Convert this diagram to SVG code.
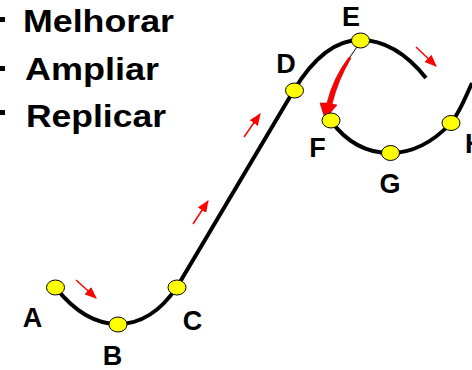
<svg xmlns="http://www.w3.org/2000/svg" width="472" height="370" viewBox="0 0 472 370">
<style>
.big{font-family:"Liberation Sans",Arial,sans-serif;font-weight:bold;font-size:31px;fill:#000}
.lbl{font-family:"Liberation Sans",Arial,sans-serif;font-weight:bold;font-size:27px;fill:#000;text-anchor:middle}
.curve{fill:none;stroke:#000;stroke-width:4;stroke-linecap:butt;stroke-linejoin:round}
.node ellipse{fill:#ffff00;stroke:#000;stroke-width:1}
.ra{stroke:#ff0000;stroke-width:1.5;fill:none;marker-end:url(#ah)}
</style>
<defs>
<marker id="ah" viewBox="0 0 12 10" refX="11" refY="5" markerWidth="12" markerHeight="10" markerUnits="userSpaceOnUse" orient="auto">
<path d="M0,0 L12,5 L0,10 z" fill="#ff0000"/>
</marker>
</defs>
<rect width="472" height="370" fill="#fff"/>
<g id="bullets">
<rect x="0" y="17" width="5" height="5" fill="#000"/>
<text class="big" x="23" y="31.5" textLength="151" lengthAdjust="spacingAndGlyphs">Melhorar</text>
<rect x="0" y="66" width="5" height="5" fill="#000"/>
<text class="big" x="25" y="80" textLength="134" lengthAdjust="spacingAndGlyphs">Ampliar</text>
<rect x="0" y="110" width="5" height="5" fill="#000"/>
<text class="big" x="26" y="127" textLength="140" lengthAdjust="spacingAndGlyphs">Replicar</text>
</g>
<g id="connectors">
<path class="curve" d="M56,288 C75,312 95,324 118,324 C140,324 160,312 177,287 L294,90 C308,67 330,40 360,40 C388,40 410,58 426,78"/>
<path class="curve" d="M331,121 C345,140 365,153 390,153 C415,153 435,140 451,123 C460,112 465,98 472,83"/>
<path class="ra" d="M76,280 L96,298"/>
<path class="ra" d="M193,224 L208,201"/>
<path class="ra" d="M244,137 L260,114"/>
<path class="ra" d="M416,47 L436,66"/>
<line x1="361" y1="41" x2="350" y2="57" stroke="#000" stroke-width="1"/>
<path d="M349,57 Q333,78 327,103 L320,103 L325,119 L337,105 L332,104 Q338,80 351,58 Z" fill="#ff0000" stroke="#b00000" stroke-width="0.6"/>
</g>
<g id="node-A" class="node"><ellipse cx="55.5" cy="287.5" rx="9" ry="7.5"/><text class="lbl" x="32.5" y="327">A</text></g>
<g id="node-B" class="node"><ellipse cx="118" cy="324.5" rx="9" ry="7.5"/><text class="lbl" x="112.5" y="365">B</text></g>
<g id="node-C" class="node"><ellipse cx="177" cy="287.5" rx="9" ry="7.5"/><text class="lbl" x="192.5" y="330">C</text></g>
<g id="node-D" class="node"><ellipse cx="294.5" cy="90.5" rx="9" ry="7.5"/><text class="lbl" x="286" y="73">D</text></g>
<g id="node-E" class="node"><ellipse cx="360.5" cy="40.5" rx="9" ry="7.5"/><text class="lbl" x="351" y="26">E</text></g>
<g id="node-F" class="node"><ellipse cx="331" cy="120.5" rx="9" ry="7.5"/><text class="lbl" x="317.5" y="157">F</text></g>
<g id="node-G" class="node"><ellipse cx="390.5" cy="153" rx="9" ry="7.5"/><text class="lbl" x="390" y="193">G</text></g>
<g id="node-H" class="node"><ellipse cx="451" cy="123" rx="9" ry="7.5"/><text class="lbl" x="465" y="153" style="text-anchor:start">H</text></g>
</svg>
